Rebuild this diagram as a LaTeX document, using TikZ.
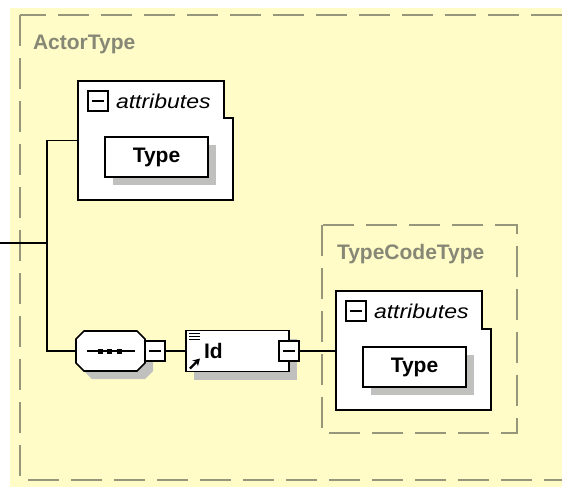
\documentclass[tikz,border=0pt]{standalone}
\usepackage{fontspec}
\setmainfont{Liberation Sans}
\newfontfamily\attrfont[FakeStretch=1.15]{Liberation Sans}
\usepackage{tikz}
\usetikzlibrary{positioning}
\usetikzlibrary{calc}
\usetikzlibrary{shadows}
\usetikzlibrary{arrows.meta}
\definecolor{schemabg}{RGB}{255,252,200}
\definecolor{framegray}{RGB}{150,150,122}
\definecolor{titlegray}{RGB}{135,135,118}
\definecolor{shadowgray}{RGB}{192,192,190}

\begin{document}
\begin{tikzpicture}[x=1pt, y=-1pt,
                    every node/.style={inner sep=0pt, outer sep=0pt},
                    typetitle/.style={text=titlegray,
                      font=\fontsize{21}{24}\selectfont\bfseries},
                    typeframe/.style={draw=framegray,
                      line width=1.5pt,
                      dash pattern=on 31pt off 12pt},
                    elem/.style={draw,
                      rectangle,
                      line width=1.7pt,
                      fill=white,
                      font=\fontsize{21}{24}\selectfont\bfseries},
                    shade/.style={drop shadow={shadow xshift=8pt,
                      shadow yshift=-8pt,
                      fill=shadowgray,
                      opacity=1}},
                    shadefill/.style={fill=shadowgray},
                    seqfill/.style={draw, line width=1.7pt, fill=white},
                    attrgroup/.style={rectangle,
                      minimum width=155pt,
                      minimum height=119pt},
                    attrlabel/.style={font=\attrfont\fontsize{20}{24}\selectfont\itshape},
                    minusbox/.style={draw,
                      rectangle,
                      fill=white,
                      line width=1.4pt,
                      minimum width=20pt,
                      minimum height=20pt,
                      path picture={\draw[line width=1.4pt]
                        ([xshift=4pt]path picture bounding box.west) --
                        ([xshift=-4pt]path picture bounding box.east);}},
                    wire/.style={line width=1.7pt}]
\useasboundingbox (0,0) rectangle (562,487);
\clip (0,0) rectangle (562,487);
\fill[white] (0,0) rectangle (562,487);
\fill[schemabg] (10,8) rectangle (562,487);

% outer complex type
\draw[typeframe] (20,15) rectangle (600,480);
\node (actortitle) [typetitle, anchor=base west] at (33,50) {ActorType};

% attribute group of ActorType
\node (attrA) [attrgroup] at (155.5,140.5) {};
\draw[elem] (attrA.north west) -- ++(146,0) -- ++(0,37) -- ++(9,0)
  |- (attrA.south west) -- cycle;
\node (minusA) [minusbox, below right=10pt and 10pt of attrA.north west] {};
\node (attrtextA) [attrlabel, right=8pt of minusA] {attributes};
\node (typeA) [elem, shade, minimum width=103pt, minimum height=40pt,
  below right=56pt and 27pt of attrA.north west] {Type};

% sequence and element Id
\coordinate (start) at (0,243);
\coordinate (fork) at (47,243);
\node (seq) [minimum width=69pt, minimum height=40pt] at (110.5,351) {};
\foreach \ox/\oy/\st in {8/8/shadefill, 0/0/seqfill}
  \path[\st] ($(seq.north west)+(8+\ox,\oy)$) -- ($(seq.north east)+(-8+\ox,\oy)$)
    -- ($(seq.north east)+(\ox,8+\oy)$) -- ($(seq.south east)+(\ox,-8+\oy)$)
    -- ($(seq.south east)+(-8+\ox,\oy)$) -- ($(seq.south west)+(8+\ox,\oy)$)
    -- ($(seq.south west)+(\ox,-8+\oy)$) -- ($(seq.north west)+(\ox,8+\oy)$) -- cycle;
\draw[line width=1.4pt] ([xshift=11pt]seq.west) -- ([xshift=-10pt]seq.east);
\foreach \dx in {-10,-1,9}
  \fill ([xshift=\dx pt]seq.center) ++(-2.5,-2.5) rectangle ++(5,5);
\node (seqminus) [minusbox, right=0pt of seq] {};
\node (idel) [elem, shade, minimum width=103pt, minimum height=41pt,
  right=21pt of seqminus] {};
\node (idtext) [font=\fontsize{21}{24}\selectfont\bfseries,
  right=18pt of idel.west] {Id};
\foreach \dy in {3,6,9}
  \draw[line width=1pt] ([xshift=3pt,yshift=-\dy pt]idel.north west) -- ++(11,0);
\draw[line width=2.2pt, -{Stealth[length=7pt,width=8pt]}]
  ([xshift=4pt,yshift=3pt]idel.south west) -- ++(10,-10);
\node (idminus) [minusbox] at (idel.east) {};

% type of element Id
\draw[typeframe] (322,225) rectangle (517,433);
\node (codetitle) [typetitle, anchor=base west] at (337,259) {TypeCodeType};
\node (attrB) [attrgroup] at (413.5,350.5) {};
\draw[elem] (attrB.north west) -- ++(146,0) -- ++(0,38) -- ++(9,0)
  |- (attrB.south west) -- cycle;
\node (minusB) [minusbox, below right=10pt and 10pt of attrB.north west] {};
\node (attrtextB) [attrlabel, right=8pt of minusB] {attributes};
\node (typeB) [elem, shade, minimum width=103pt, minimum height=40pt,
  below right=56pt and 27pt of attrB.north west] {Type};

% connectors
\draw[wire] (start) -- (fork);
\draw[wire] (attrA.west) -| (fork) |- (seq.west);
\draw[wire] (seqminus.east) -- (idel.west);
\draw[wire] (idminus.east) -- (idminus.east -| attrB.west);
\end{tikzpicture}
\end{document}
